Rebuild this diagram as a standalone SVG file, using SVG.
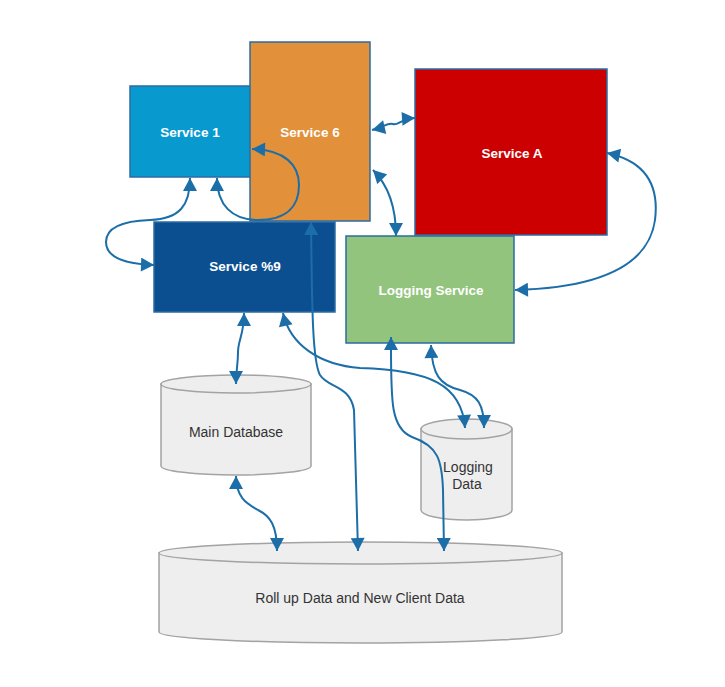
<svg xmlns="http://www.w3.org/2000/svg" width="725" height="687" viewBox="0 0 725 687">
<defs>
<style>
.box{stroke:#2b6ca3;stroke-width:1.5}
.lbl{font-family:"Liberation Sans",Arial,sans-serif;font-size:13.5px;font-weight:bold;fill:#ffffff;text-anchor:middle}
.cyl{fill:#eeeeee;stroke:#a3a3a3;stroke-width:1.5}
.dlbl{font-family:"Liberation Sans",Arial,sans-serif;font-size:14px;fill:#333333;text-anchor:middle}
.edge{fill:none;stroke:#1c6ea8;stroke-width:2;marker-start:url(#ah);marker-end:url(#ah)}
</style>
<marker id="ah" markerUnits="userSpaceOnUse" markerWidth="14" markerHeight="14" viewBox="0 0 13 14" refX="13" refY="7" orient="auto-start-reverse">
<path d="M0,0 L13,7 L0,14 z" fill="#1c6ea8"/>
</marker>
</defs>
<rect width="725" height="687" fill="#ffffff"/>
<g id="service1"><rect class="box" x="130" y="86" width="121" height="91" fill="#0899cf"/><text class="lbl" x="190" y="137">Service 1</text></g>
<g id="service6"><rect class="box" x="250" y="42" width="120" height="179" fill="#e3903a"/><text class="lbl" x="310" y="137">Service 6</text></g>
<g id="serviceA"><rect class="box" x="415" y="69" width="192" height="166" fill="#cc0000"/><text class="lbl" x="512" y="158">Service A</text></g>
<g id="service9"><rect class="box" x="154" y="222" width="181" height="90" fill="#0c4f91"/><text class="lbl" x="245" y="271">Service %9</text></g>
<g id="logging-service"><rect class="box" x="346" y="236" width="168" height="107" fill="#93c47d"/><text class="lbl" x="431" y="295">Logging Service</text></g>
<g id="main-database"><path class="cyl" d="M161,384 L161,466 A75,9 0 0 0 311,466 L311,384 Z"/><ellipse class="cyl" cx="236" cy="384" rx="75" ry="9"/><text class="dlbl" x="236" y="437">Main Database</text></g>
<g id="logging-data"><path class="cyl" d="M421,429 L421,510 A45.5,10 0 0 0 512,510 L512,429 Z"/><ellipse class="cyl" cx="466.5" cy="429" rx="45.5" ry="10"/><text class="dlbl" x="468" y="472">Logging</text><text class="dlbl" x="467" y="489">Data</text></g>
<g id="rollup-data"><path class="cyl" d="M159,553 L159,632 A201.5,11 0 0 0 562,632 L562,553 Z"/><ellipse class="cyl" cx="360.5" cy="553" rx="201.5" ry="11"/><text class="dlbl" x="360" y="603">Roll up Data and New Client Data</text></g>
<g id="connectors">
<path class="edge" d="M190,178 C190,205 180,219 150,220 C120,221 106,228 106,242 C106,258 125,264 154,265"/>
<path class="edge" d="M217,178 C217,205 232,220 258,220 C288,220 299,205 299,185 C299,165 285,150 252,149"/>
<path class="edge" d="M311,222 C312,300 312,360 320,375 C328,388 350,385 354,410 L358,551"/>
<path class="edge" d="M372,130 C385,127 387,122 393,124 C398,126 400,119 415,118"/>
<path class="edge" d="M373,170 C388,185 396,205 396,236"/>
<path class="edge" d="M607,153 C640,160 660,180 655,220 C648,270 590,288 515,290"/>
<path class="edge" d="M244,313 C244,335 238,340 238,352 C238,365 236,370 236,384"/>
<path class="edge" d="M283,313 C290,345 320,365 360,368 C430,370 462,385 465,428"/>
<path class="edge" d="M431,345 C432,375 440,385 460,390 C478,395 484,405 484,428"/>
<path class="edge" d="M391,337 C391,400 390,428 412,437 C438,446 442,460 443,490 L444,551"/>
<path class="edge" d="M236,476 C236,500 250,505 258,510 C270,516 277,525 277,551"/>
</g>
</svg>
